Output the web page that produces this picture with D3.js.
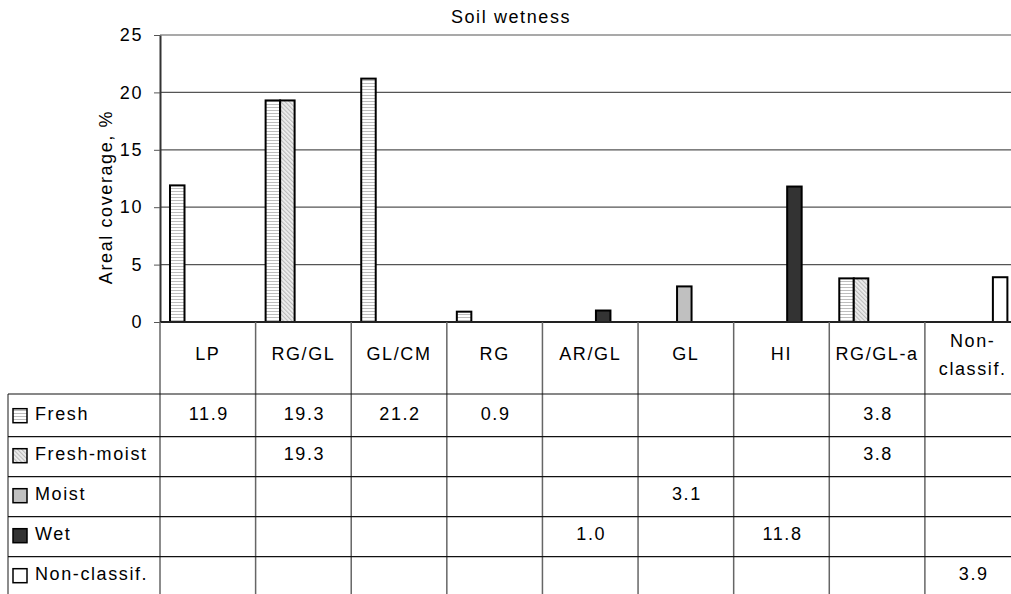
<!DOCTYPE html>
<html>
<head>
<meta charset="utf-8">
<script src="https://cdn.jsdelivr.net/npm/d3@7"></script>
<style>
body { margin: 0; background: #fff; }
text { font-family: "Liberation Sans", Arial, sans-serif; font-size: 18px; letter-spacing: 1.6px; fill: #000; }
</style>
</head>
<body>
<svg id="chart" width="1011" height="594"></svg>
<script>
// data
var categories = ["LP", "RG/GL", "GL/CM", "RG", "AR/GL", "GL", "HI", "RG/GL-a", "Non-classif."];
var seriesNames = ["Fresh", "Fresh-moist", "Moist", "Wet", "Non-classif."];
var freshValues = [11.9, 19.3, 21.2, 0.9, null, null, null, 3.8, null];
var freshMoistValues = [null, 19.3, null, null, null, null, null, 3.8, null];
var moistValues = [null, null, null, null, null, 3.1, null, null, null];
var wetValues = [null, null, null, null, 1.0, null, 11.8, null, null];
var nonClassifValues = [null, null, null, null, null, null, null, null, 3.9];
var yTicks = [0, 5, 10, 15, 20, 25];
var chartTitle = "Soil wetness";
var yTitle = "Areal coverage, %";

var seriesValues = [freshValues, freshMoistValues, moistValues, wetValues, nonClassifValues];
var seriesFills = ["url(#pat-fresh)", "url(#pat-freshmoist)", "#c0c0c0", "#333333", "#ffffff"];

var margin = { top: 35, left: 160, plotBottom: 322, right: 1020.5 };
var tableLeft = 8;
var headerBottom = 394;
// bottoms of the five data rows
var rowBottoms = [436.7, 476.7, 516.7, 556.7, 596.7];

var svg = d3.select('#chart');
var W = 1011, H = 594;

// patterns
var defs = svg.append('defs');
var p1 = defs.append('pattern').attr('id', 'pat-fresh').attr('patternUnits', 'userSpaceOnUse')
    .attr('width', 4).attr('height', 3);
p1.append('rect').attr('width', 4).attr('height', 3).attr('fill', '#fff');
p1.append('rect').attr('y', 2).attr('width', 4).attr('height', 1).attr('fill', '#bdbdbd');

var p2 = defs.append('pattern').attr('id', 'pat-freshmoist').attr('patternUnits', 'userSpaceOnUse')
    .attr('width', 3).attr('height', 3).attr('patternTransform', 'rotate(-45)');
p2.append('rect').attr('width', 3).attr('height', 3).attr('fill', '#f0f0f0');
p2.append('rect').attr('width', 1.2).attr('height', 3).attr('fill', '#bcbcbc');

var x = d3.scaleBand().domain(categories).range([margin.left, margin.right]).padding(0);
var x1 = d3.scaleBand().domain(seriesNames).range([10, 82.5]).padding(0);
var y = d3.scaleLinear().domain([0, 25]).range([margin.plotBottom, margin.top]);

// gridlines
svg.append('g').selectAll('line').data(yTicks.filter(function(d){ return d > 0; }))
    .join('line')
    .attr('x1', margin.left).attr('x2', W)
    .attr('y1', function(d){ return y(d); }).attr('y2', function(d){ return y(d); })
    .attr('stroke', '#555').attr('stroke-width', 1.2);

// bars
var bars = [];
seriesValues.forEach(function(vals, si){
    vals.forEach(function(v, ci){
        if (v != null) bars.push({ cat: categories[ci], series: seriesNames[si], value: v, fill: seriesFills[si] });
    });
});
svg.append('g').selectAll('rect').data(bars).join('rect')
    .attr('x', function(d){ return x(d.cat) + x1(d.series); })
    .attr('width', x1.bandwidth())
    .attr('y', function(d){ return y(d.value); })
    .attr('height', function(d){ return y(0) - y(d.value); })
    .attr('fill', function(d){ return d.fill; })
    .attr('stroke', '#000').attr('stroke-width', 2);

// y axis
var yAxis = d3.axisLeft(y).tickValues(yTicks).tickSize(6).tickSizeOuter(0).tickPadding(11);
var yAxis_g = svg.append('g').attr('transform', 'translate(' + margin.left + ',0)').call(yAxis);
yAxis_g.select('.domain').attr('stroke', '#333').attr('stroke-width', 2);
yAxis_g.selectAll('.tick line').attr('stroke', '#555');
yAxis_g.attr('font-size', null).attr('font-family', null);

// x axis line
var xAxis = d3.axisBottom(x).tickSize(0).tickSizeOuter(0).tickFormat('');
var xAxis_g = svg.append('g').attr('transform', 'translate(0,' + margin.plotBottom + ')').call(xAxis);
xAxis_g.select('.domain').attr('stroke', '#222').attr('stroke-width', 2)
    .attr('d', 'M' + margin.left + ',0H' + W);

// table lines
var tg = svg.append('g');
var colEdges = categories.map(function(c){ return x(c); }).concat([x(categories[categories.length - 1]) + x.bandwidth()]);
tg.selectAll('line.v').data(colEdges).join('line').attr('class', 'v')
    .attr('x1', function(d){ return d; }).attr('x2', function(d){ return d; })
    .attr('y1', margin.plotBottom).attr('y2', H)
    .attr('stroke', '#666').attr('stroke-width', 1.5);
tg.append('line').attr('x1', tableLeft).attr('x2', tableLeft).attr('y1', headerBottom).attr('y2', H)
    .attr('stroke', '#666').attr('stroke-width', 1.5);
tg.selectAll('line.h').data([headerBottom].concat(rowBottoms.slice(0, 4))).join('line').attr('class', 'h')
    .attr('x1', tableLeft).attr('x2', W)
    .attr('y1', function(d){ return d; }).attr('y2', function(d){ return d; })
    .attr('stroke', '#111').attr('stroke-width', 1.2);

// category header labels (wrap after hyphen if too wide)
var headG = svg.append('g');
categories.forEach(function(c){
    var t = headG.append('text').attr('text-anchor', 'middle')
        .attr('x', x(c) + x.bandwidth() / 2).attr('y', 360).text(c);
    if (t.node().getComputedTextLength() > x.bandwidth() - 8 && c.indexOf('-') > 0) {
        var k = c.indexOf('-') + 1;
        t.text(null);
        t.append('tspan').attr('x', x(c) + x.bandwidth() / 2).attr('y', 347).text(c.slice(0, k));
        t.append('tspan').attr('x', x(c) + x.bandwidth() / 2).attr('y', 375).text(c.slice(k));
    }
});

// legend cells and values
var rowG = svg.append('g');
seriesNames.forEach(function(s, si){
    var base = rowBottoms[si] - 17;
    rowG.append('rect').attr('x', 13).attr('y', base - 11).attr('width', 14).attr('height', 14)
        .attr('fill', seriesFills[si]).attr('stroke', '#000').attr('stroke-width', 1.5);
    rowG.append('text').attr('x', 35).attr('y', base).text(s);
    seriesValues[si].forEach(function(v, ci){
        if (v == null) return;
        rowG.append('text').attr('text-anchor', 'middle')
            .attr('x', x(categories[ci]) + x.bandwidth() / 2 + 1).attr('y', base)
            .text(d3.format('.1f')(v));
    });
});

// titles
svg.append('text').attr('x', 511).attr('y', 23).attr('text-anchor', 'middle').text(chartTitle);
svg.append('text').attr('transform', 'translate(112,197) rotate(-90)').attr('text-anchor', 'middle').text(yTitle);
</script>
</body>
</html>
